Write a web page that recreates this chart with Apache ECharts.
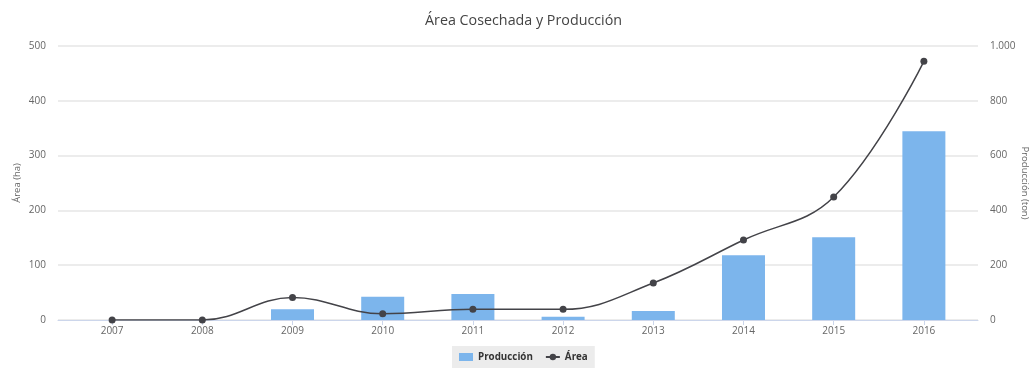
<!DOCTYPE html>
<html>
<head>
<meta charset="utf-8">
<script src="https://cdn.jsdelivr.net/npm/echarts@6/dist/echarts.min.js"></script>
<style>
html,body{margin:0;padding:0;background:#fff;}
#chart{width:1031px;height:369px;}
</style>
</head>
<body>
<div id="chart"></div>
<script>
var categories = [2007, 2008, 2009, 2010, 2011, 2012, 2013, 2014, 2015, 2016];
var produccion = [0, 0, 39, 85, 95, 12, 33, 236, 302, 689];
var area = [0, 0, 41, 11.5, 19.5, 19.5, 67.5, 146, 224.5, 472];
var leftTicks = [0, 100, 200, 300, 400, 500];
var rightTicks = [0, 200, 400, 600, 800, 1000];

var FONT = '"Open Sans", "DejaVu Sans", sans-serif';
var chart = echarts.init(document.getElementById('chart'));

function pairs(vals){ return categories.map(function(c,i){ return [c, vals[i]]; }); }
function fmtThousands(v){ return String(v).replace(/\B(?=(\d{3})+(?!\d))/g, '.'); }

chart.setOption({
  animation: false,
  backgroundColor: '#ffffff',
  title: {
    text: 'Área Cosechada y Producción',
    left: 420,
    top: 9,
    textStyle: { fontFamily: FONT, fontSize: 14.3, fontWeight: 'normal', color: '#444' }
  },
  legend: {
    bottom: 1,
    left: 452,
    backgroundColor: '#ececec',
    padding: [6, 7, 6, 7],
    itemGap: 12,
    itemWidth: 14,
    itemHeight: 8,
    textStyle: { fontFamily: FONT, fontSize: 9.8, fontWeight: 'bold', color: '#333' },
    data: [{ name: 'Producción', icon: 'rect' }, { name: 'Área' }]
  },
  grid: { left: 58, right: 53, top: 46, bottom: 49, containLabel: false, outerBoundsMode: 'none' },
  xAxis: {
    type: 'value',
    min: 2006.4,
    max: 2016.6,
    splitLine: { show: false },
    axisLine: { show: true, lineStyle: { color: '#ccd6eb', width: 1 } },
    axisTick: { show: true, customValues: categories, length: 5, lineStyle: { color: '#ccd6eb' } },
    axisLabel: {
      customValues: categories,
      formatter: function(v){ return String(v); },
      fontFamily: FONT, fontSize: 10, color: '#666', margin: 6
    }
  },
  yAxis: [
    {
      type: 'value',
      min: 0, max: 500, interval: 100,
      name: 'Área (ha)',
      nameLocation: 'middle',
      nameGap: 36,
      nameRotate: 90,
      nameMoveOverlap: false,
      nameTextStyle: { fontFamily: FONT, fontSize: 9.5, color: '#666' },
      axisLine: { show: false },
      axisTick: { show: false },
      axisLabel: { fontFamily: FONT, fontSize: 10, color: '#666', margin: 12,
        formatter: function(v){ return leftTicks.indexOf(v) >= 0 ? fmtThousands(v) : ''; } },
      splitLine: { show: true, lineStyle: { color: '#e6e6e6', width: 1.5 } }
    },
    {
      type: 'value',
      min: 0, max: 1000, interval: 200,
      name: 'Producción (ton)',
      nameLocation: 'middle',
      nameGap: 42,
      nameRotate: -90,
      nameMoveOverlap: false,
      nameTextStyle: { fontFamily: FONT, fontSize: 9.5, color: '#666' },
      axisLine: { show: false },
      axisTick: { show: false },
      axisLabel: { fontFamily: FONT, fontSize: 10, color: '#666', margin: 12,
        formatter: function(v){ return rightTicks.indexOf(v) >= 0 ? fmtThousands(v) : ''; } },
      splitLine: { show: false }
    }
  ],
  series: [
    {
      name: 'Producción',
      type: 'bar',
      yAxisIndex: 1,
      barWidth: 43,
      itemStyle: { color: '#7cb5ec' },
      data: pairs(produccion),
      z: 2
    },
    {
      name: 'Área',
      type: 'line',
      yAxisIndex: 0,
      smooth: 0.4,
      symbol: 'circle',
      symbolSize: 7,
      lineStyle: { color: '#434348', width: 1.5 },
      itemStyle: { color: '#434348' },
      data: pairs(area),
      z: 3
    }
  ]
});
</script>
</body>
</html>
